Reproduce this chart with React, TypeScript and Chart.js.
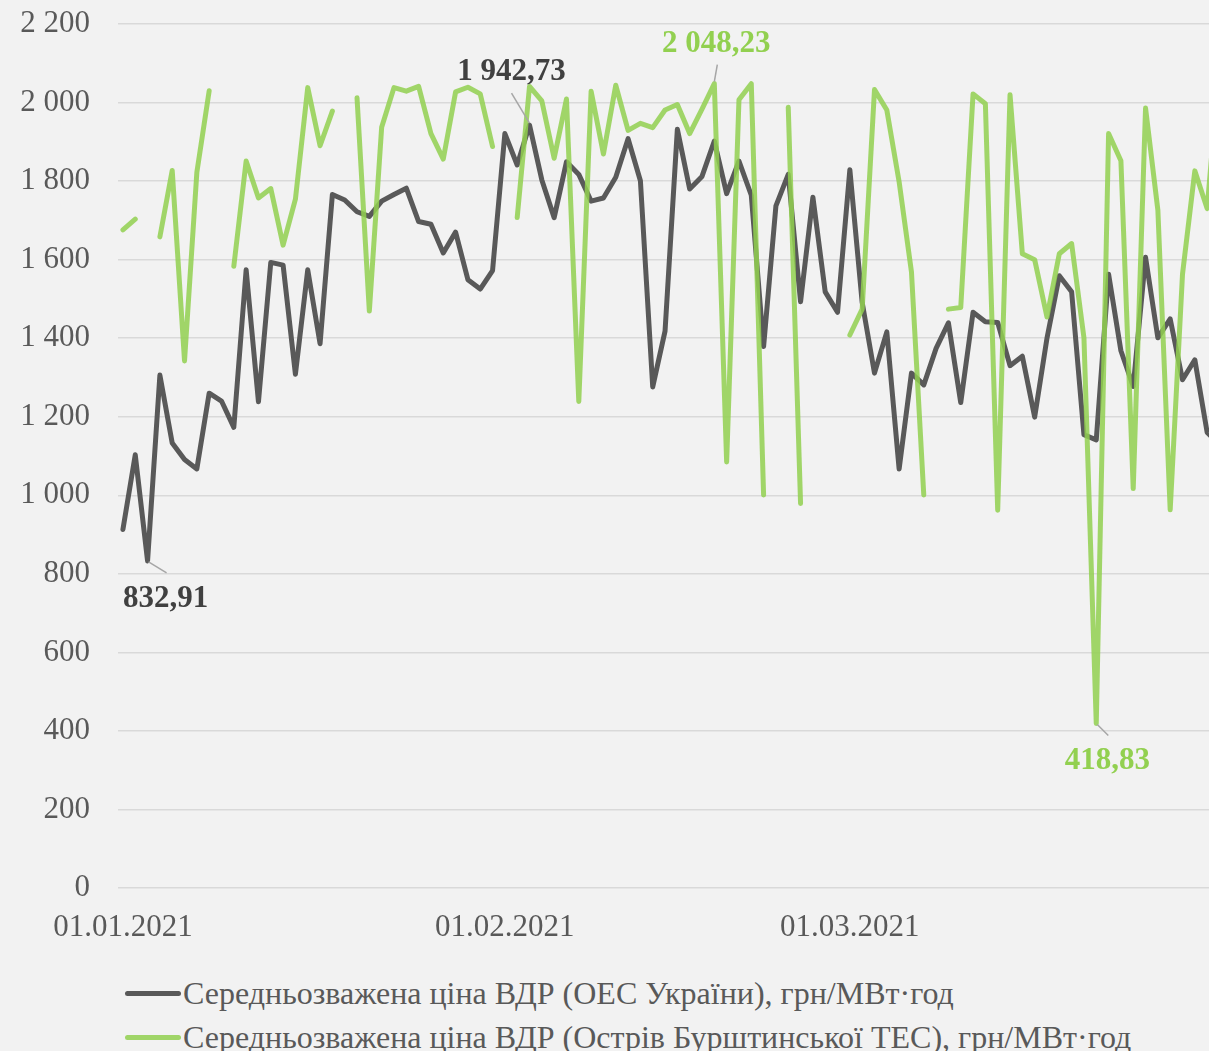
import React, { useEffect, useRef } from 'react';
import { Chart, registerables } from 'chart.js';

Chart.register(...registerables);

const FONT = "'Liberation Serif', 'Times New Roman', serif";

// Day index 0 = 01.01.2021
const X_TICK_DAYS = [0, 31, 59];
const X_TICK_LABELS = ['01.01.2021', '01.02.2021', '01.03.2021'];
const Y_MIN = 0;
const Y_MAX = 2200;
const Y_STEP = 200;

const SERIES_LABELS = [
  'Середньозважена ціна ВДР (ОЕС України), грн/МВт·год',
  'Середньозважена ціна ВДР (Острів Бурштинської ТЕС), грн/МВт·год',
];

const UA_PRICE: (number | null)[] = [
  913, 1103, 832.91, 1306, 1133, 1091, 1067, 1260, 1240, 1173,
  1574, 1238, 1593, 1586, 1308, 1574, 1386, 1766, 1752, 1722,
  1710, 1749, 1766, 1782, 1697, 1690, 1617, 1670, 1549, 1525,
  1572, 1921, 1841, 1942.73, 1803, 1707, 1849, 1817, 1749, 1757,
  1810, 1908, 1801, 1276, 1418, 1932, 1780, 1812, 1902, 1768,
  1851, 1764, 1379, 1737, 1817, 1493, 1759, 1518, 1466, 1829,
  1491, 1311, 1416, 1067, 1311, 1281, 1374, 1439, 1236, 1466,
  1442, 1440, 1330, 1354, 1199, 1400, 1559, 1518, 1154, 1141,
  1563, 1368, 1277, 1606, 1401, 1449, 1294, 1345, 1160, 1130,
];

const BURSHTYN_PRICE: (number | null)[] = [
  1676, 1703, null, 1658, 1827, 1342, 1822, 2030, null, 1583,
  1851, 1757, 1781, 1637, 1754, 2038, 1890, 1978, null, 2012,
  1469, 1937, 2038, 2029, 2041, 1921, 1856, 2027, 2039, 2022,
  1888, null, 1707, 2041, 2004, 1858, 2009, 1239, 2029, 1869,
  2044, 1929, 1947, 1936, 1981, 1995, 1921, 1983, 2048.23, 1085,
  2007, 2048, 1001, null, 1988, 979, null, null, null, 1408,
  1474, 2033, 1981, 1798, 1569, 1001, null, 1474, 1478, 2022,
  1997, 962, 2020, 1615, 1600, 1454, 1615, 1641, 1401, 418.83,
  1921, 1852, 1017, 1986, 1726, 963, 1563, 1826, 1730, 2100,
];

const COLOR_UA = '#595959';
const COLOR_BU = 'rgba(146, 208, 80, 0.85)';
const COLOR_BU_TEXT = '#92d050';

// annotated points: dataset (0 = UA, 1 = Burshtyn), day index
const ANNOTATED = [
  { ds: 0, idx: 2, color: '#404040', tdx: 18, tdy: 38, l1: [1, 1], l2: [19, 12] },
  { ds: 0, idx: 33, color: '#404040', tdx: -18, tdy: -53, l1: [-18, -32], l2: [0, -2] },
  { ds: 1, idx: 48, color: COLOR_BU_TEXT, tdx: 2, tdy: -40, l1: [3, -19], l2: [0, -2] },
  { ds: 1, idx: 79, color: COLOR_BU_TEXT, tdx: 11, tdy: 37, l1: [1, 1], l2: [12, 12] },
];

function fmt(v: number, decimals = 0): string {
  const fixed = v.toFixed(decimals);
  const [intPart, dec] = fixed.split('.');
  const withSp = intPart.replace(/\B(?=(\d{3})+(?!\d))/g, ' ');
  return dec ? withSp + ',' + dec : withSp;
}

const annotationPlugin = {
  id: 'pointAnnotations',
  afterDatasetsDraw(chart: any) {
    const ctx = chart.ctx;
    ctx.save();
    for (const a of ANNOTATED) {
      const meta = chart.getDatasetMeta(a.ds);
      const el = meta.data[a.idx];
      if (!el) continue;
      const x = el.x;
      const y = el.y;
      const arr = a.ds === 0 ? UA_PRICE : BURSHTYN_PRICE;
      const v = arr[a.idx] as number;
      ctx.strokeStyle = '#a6a6a6';
      ctx.lineWidth = 1.5;
      ctx.beginPath();
      ctx.moveTo(x + a.l1[0], y + a.l1[1]);
      ctx.lineTo(x + a.l2[0], y + a.l2[1]);
      ctx.stroke();
      ctx.font = `bold 31px ${FONT}`;
      ctx.fillStyle = a.color;
      ctx.textAlign = 'center';
      ctx.textBaseline = 'middle';
      ctx.fillText(fmt(v, 2), x + a.tdx, y + a.tdy);
    }
    ctx.restore();
  },
};

export default function App() {
  const canvasRef = useRef<HTMLCanvasElement | null>(null);

  useEffect(() => {
    if (!canvasRef.current) return;
    const chart = new Chart(canvasRef.current, {
      type: 'line',
      data: {
        datasets: [
          {
            label: SERIES_LABELS[0],
            data: UA_PRICE.map((v, i) => ({ x: i, y: v })) as any,
            borderColor: COLOR_UA,
            backgroundColor: COLOR_UA,
            borderWidth: 5,
            pointRadius: 0,
            tension: 0,
            spanGaps: false,
            borderCapStyle: 'round',
            borderJoinStyle: 'round',
            order: 2,
          },
          {
            label: SERIES_LABELS[1],
            data: BURSHTYN_PRICE.map((v, i) => ({ x: i, y: v })) as any,
            borderColor: COLOR_BU,
            backgroundColor: COLOR_BU,
            borderWidth: 5,
            pointRadius: 0,
            tension: 0,
            spanGaps: false,
            borderCapStyle: 'round',
            borderJoinStyle: 'round',
            order: 1,
          },
        ],
      },
      options: {
        animation: false,
        responsive: false,
        devicePixelRatio: 1,
        layout: { padding: { top: 24, left: 0, right: 0, bottom: 0 } },
        plugins: {
          legend: { display: false },
          tooltip: { enabled: false },
        },
        scales: {
          x: {
            type: 'linear',
            min: -0.4,
            max: 88.15,
            grid: { display: false },
            border: { display: false },
            afterBuildTicks: (scale: any) => {
              scale.ticks = X_TICK_DAYS.map((v) => ({ value: v }));
            },
            afterFit: (scale: any) => {
              scale.height = 72;
              scale.paddingLeft = 0;
              scale.paddingRight = 0;
            },
            ticks: {
              autoSkip: false,
              maxRotation: 0,
              padding: 13,
              color: '#595959',
              font: { family: FONT, size: 31 },
              callback: (_v: any, i: number) => X_TICK_LABELS[i],
            },
          },
          y: {
            min: Y_MIN,
            max: Y_MAX,
            grid: { color: '#d9d9d9', lineWidth: 1.5, drawTicks: false },
            border: { display: false },
            afterFit: (scale: any) => {
              scale.width = 118;
              scale.paddingTop = 0;
              scale.paddingBottom = 0;
            },
            ticks: {
              stepSize: Y_STEP,
              padding: 28,
              color: '#595959',
              font: { family: FONT, size: 31 },
              callback: (v: any) => fmt(Number(v)),
            },
          },
        },
      },
      plugins: [annotationPlugin],
    } as any);
    return () => chart.destroy();
  }, []);

  const colors = [COLOR_UA, COLOR_BU];

  return (
    <div
      style={{
        position: 'fixed',
        left: 0,
        top: 0,
        width: 1209,
        height: 1051,
        background: '#f2f2f2',
        overflow: 'hidden',
      }}
    >
      <canvas ref={canvasRef} width={1209} height={960} style={{ display: 'block' }} />
      <div
        style={{
          position: 'absolute',
          left: 125,
          top: 971,
          fontFamily: FONT,
          fontSize: 32,
          color: '#595959',
        }}
      >
        {SERIES_LABELS.map((label, i) => (
          <div key={i} style={{ display: 'flex', alignItems: 'center', height: 44 }}>
            <span
              style={{
                display: 'inline-block',
                width: 56,
                height: 5,
                background: colors[i],
                borderRadius: 3,
              }}
            />
            <span style={{ marginLeft: 2, whiteSpace: 'nowrap' }}>{label}</span>
          </div>
        ))}
      </div>
    </div>
  );
}
